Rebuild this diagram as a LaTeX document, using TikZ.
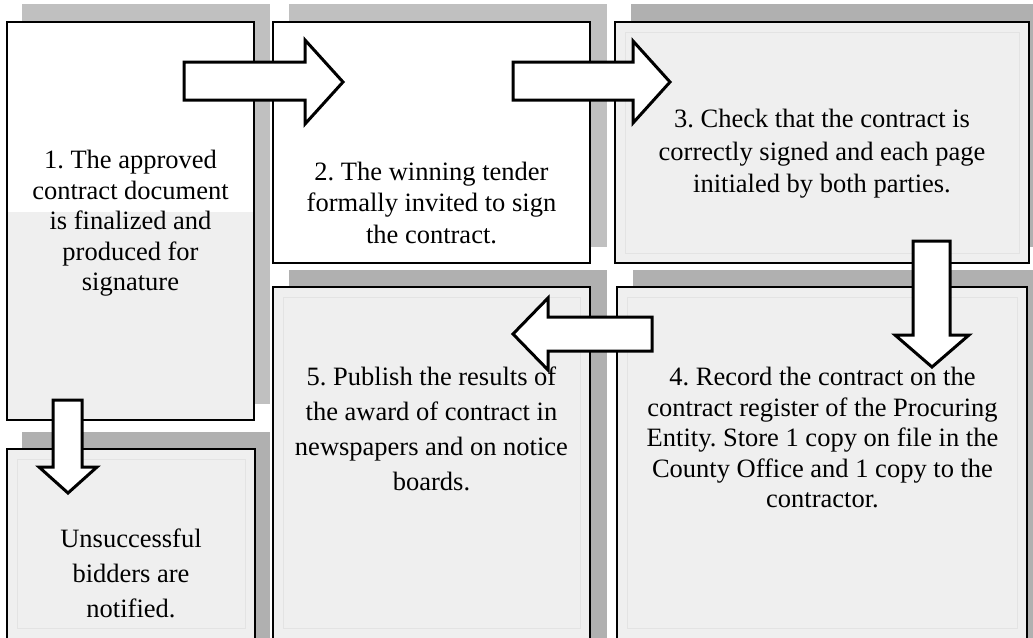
\documentclass[tikz,border=0pt]{standalone}
\usepackage{fontspec}
\setmainfont{Liberation Serif}
\definecolor{boxgray}{HTML}{EFEFEF}
\definecolor{shadowA}{HTML}{C0C0C0}
\definecolor{shadowB}{HTML}{B0B0B0}
\definecolor{innerline}{HTML}{E3E3E3}
\tikzset{
  panel/.style={draw=black, line width=1.5pt, fill=boxgray, inner sep=0pt},
  whitepanel/.style={panel, fill=white},
  inner/.style={draw=innerline, line width=0.8pt},
  blockarrow/.style={draw=black, fill=white, line width=3pt, line join=miter},
  txt/.style={align=center, inner sep=0pt, anchor=north, font=\frenchspacing\fontsize{26.5}{30.5}\selectfont},
  txtwide/.style={txt, font=\frenchspacing\fontsize{26.5}{35}\selectfont},
}
\begin{document}
\begin{tikzpicture}[x=1pt, y=-1pt]
\useasboundingbox (0,0) rectangle (1033,637);
\clip (0,0) rectangle (1033,637);
% shadows
\fill[shadowA] (22,4) rectangle (270,404);
\fill[shadowA] (289,4) rectangle (607,247);
\fill[shadowB] (631,4) rectangle (1046,247);
\fill[shadowB] (289,270) rectangle (607,660);
\fill[shadowB] (633,270) rectangle (1046,660);
\fill[shadowB] (22,432) rectangle (270,660);
% panels
\fill[white] (7,22) rectangle (254,212);
\fill[boxgray] (7,212) rectangle (254,420);
\node[panel, fill=none, minimum width=247pt, minimum height=398pt] (b1) at (130.5,221) {};
\node[whitepanel, minimum width=317pt, minimum height=241pt] (b2) at (431.5,142.5) {};
\node[panel, minimum width=414pt, minimum height=241pt] (b3) at (822,142.5) {};
\node[panel, minimum width=410pt, minimum height=360pt] (b4) at (822,467) {};
\node[panel, minimum width=317pt, minimum height=360pt] (b5) at (431.5,467) {};
\node[panel, minimum width=248pt, minimum height=200pt] (b6) at (131,549) {};
% faint inner lines
\draw[inner] (625,32) rectangle (1019,253);
\draw[inner] (627,297) rectangle (1017,628);
\draw[inner] (283,297) rectangle (580,628);
\draw[inner] (17,459) rectangle (245,628);
% texts
\node[txt] (t1) at (130.5,150) {1. The approved\\contract document\\is finalized and\\produced for\\signature};
\node[txt, font=\frenchspacing\fontsize{26.5}{31.5}\selectfont] (t2) at (431.5,161.5) {2. The winning tender\\formally invited to sign\\the contract.};
\node[txt, font=\frenchspacing\fontsize{26.5}{32.5}\selectfont] (t3) at (822,109) {3. Check that the contract is\\correctly signed and each page\\initialed by both parties.};
\node[txt] (t4) at (822.5,367) {4. Record the contract on the\\contract register of the Procuring\\Entity. Store 1 copy on file in the\\County Office and 1 copy to the\\contractor.};
\node[txtwide] (t5) at (431.5,367) {5. Publish the results of\\the award of contract in\\newspapers and on notice\\boards.};
\node[txtwide] (t6) at (131,529) {Unsuccessful\\bidders are\\notified.};
% block arrows
\draw[blockarrow] (184,62) -- (305,62) -- (305,40) -- (343,82) -- (305,124) -- (305,100) -- (184,100) -- cycle;
\draw[blockarrow] (513,62) -- (633,62) -- (633,41) -- (670,82) -- (633,123) -- (633,100) -- (513,100) -- cycle;
\draw[blockarrow] (913,241) -- (950,241) -- (950,335) -- (969,335) -- (932,367) -- (895,335) -- (913,335) -- cycle;
\draw[blockarrow] (652,317) -- (548,317) -- (548,298) -- (513,334) -- (548,370) -- (548,351) -- (652,351) -- cycle;
\draw[blockarrow] (53,400) -- (82,400) -- (82,467) -- (97,467) -- (68,493) -- (39,467) -- (53,467) -- cycle;
\end{tikzpicture}
\end{document}
